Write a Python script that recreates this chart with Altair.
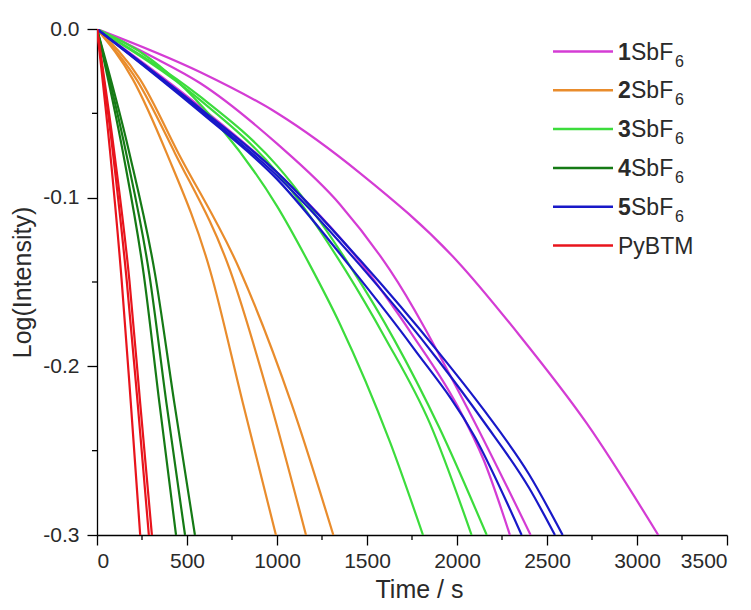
import altair as alt
import pandas as pd

# ---------------- data ----------------
series_names = ["1SbF6", "2SbF6", "3SbF6", "4SbF6", "5SbF6", "PyBTM"]
series_colors = ["#D43CD4", "#E98C2C", "#3CDC3C", "#157A15", "#1818C8", "#E8141C"]

# 1SbF6 (three runs)
m1_t = [0, 572, 1000, 1461, 2000, 2350, 2722, 3118]
m1_y = [0, -0.0255, -0.0498, -0.0854, -0.1375, -0.182, -0.234, -0.300]
m2_t = [0, 300, 572, 1000, 1350, 1628, 2044, 2409]
m2_y = [0, -0.016, -0.032, -0.068, -0.104, -0.143, -0.222, -0.300]
m3_t = [0, 572, 1000, 1461, 1750, 2000, 2150, 2294]
m3_y = [0, -0.046, -0.085, -0.138, -0.181, -0.223, -0.256, -0.300]

# 2SbF6
o1_t = [0, 200, 387, 628, 811, 994]
o1_y = [0, -0.030, -0.0736, -0.143, -0.222, -0.300]
o2_t = [0, 220, 433, 739, 965, 1161]
o2_y = [0, -0.030, -0.0736, -0.143, -0.222, -0.300]
o3_t = [0, 240, 452, 794, 1080, 1313]
o3_y = [0, -0.030, -0.0736, -0.143, -0.222, -0.300]

# 3SbF6
g1_t = [0, 300, 683, 1000, 1183, 1350, 1628, 1811]
g1_y = [0, -0.018, -0.058, -0.105, -0.140, -0.175, -0.245, -0.300]
g2_t = [0, 572, 1000, 1380, 1600, 1850, 2081]
g2_y = [0, -0.042, -0.085, -0.143, -0.183, -0.234, -0.300]
g3_t = [0, 572, 1000, 1420, 1650, 1900, 2165]
g3_y = [0, -0.040, -0.081, -0.143, -0.184, -0.236, -0.300]

# 4SbF6
d1_t = [0, 145, 259, 347, 439]
d1_y = [0, -0.0736, -0.145, -0.222, -0.300]
d2_t = [0, 162, 290, 386, 489]
d2_y = [0, -0.0736, -0.145, -0.222, -0.300]
d3_t = [0, 180, 322, 430, 544]
d3_y = [0, -0.0736, -0.145, -0.222, -0.300]

# 5SbF6
b1_t = [0, 572, 1000, 1400, 1750, 2100, 2359]
b1_y = [0, -0.049, -0.089, -0.140, -0.188, -0.242, -0.300]
b2_t = [0, 572, 1000, 1461, 1900, 2150, 2400, 2544]
b2_y = [0, -0.048, -0.087, -0.140, -0.197, -0.233, -0.272, -0.300]
b3_t = [0, 572, 1000, 1461, 1900, 2150, 2400, 2587]
b3_y = [0, -0.047, -0.085, -0.137, -0.192, -0.226, -0.264, -0.300]

# PyBTM
r1_t = [0, 72, 137, 188, 240]
r1_y = [0, -0.072, -0.149, -0.222, -0.300]
r2_t = [0, 88, 165, 226, 288]
r2_y = [0, -0.073, -0.149, -0.222, -0.300]
r3_t = [0, 97, 180, 240, 305]
r3_y = [0, -0.074, -0.149, -0.222, -0.300]

curves = [
    ("1SbF6", "m1", m1_t, m1_y), ("1SbF6", "m2", m2_t, m2_y), ("1SbF6", "m3", m3_t, m3_y),
    ("2SbF6", "o1", o1_t, o1_y), ("2SbF6", "o2", o2_t, o2_y), ("2SbF6", "o3", o3_t, o3_y),
    ("3SbF6", "g1", g1_t, g1_y), ("3SbF6", "g2", g2_t, g2_y), ("3SbF6", "g3", g3_t, g3_y),
    ("4SbF6", "d1", d1_t, d1_y), ("4SbF6", "d2", d2_t, d2_y), ("4SbF6", "d3", d3_t, d3_y),
    ("5SbF6", "b1", b1_t, b1_y), ("5SbF6", "b2", b2_t, b2_y), ("5SbF6", "b3", b3_t, b3_y),
    ("PyBTM", "r1", r1_t, r1_y), ("PyBTM", "r2", r2_t, r2_y), ("PyBTM", "r3", r3_t, r3_y),
]

x_major = [0, 500, 1000, 1500, 2000, 2500, 3000, 3500]
x_minor = [250, 750, 1250, 1750, 2250, 2750, 3250]
y_major = [0.0, -0.1, -0.2, -0.3]
y_minor = [-0.05, -0.15, -0.25]

legend_num = ["1", "2", "3", "4", "5", ""]
legend_rest = ["SbF", "SbF", "SbF", "SbF", "SbF", "PyBTM"]
legend_sub = ["6", "6", "6", "6", "6", ""]

# ---------------- tables ----------------
rows = []
for s, cid, ts, ys in curves:
    for i, (t, y) in enumerate(zip(ts, ys)):
        rows.append({"series": s, "curve": cid, "i": i, "t": t, "y": y})
df = pd.DataFrame(rows)

leg = pd.DataFrame({
    "row": list(range(len(series_names))),
    "series": series_names,
    "num": legend_num,
    "rest": legend_rest,
    "sub": legend_sub,
})

FONT = "Liberation Sans"
TXT = "#2a2a2a"

xscale = alt.Scale(domain=[0, 3500], nice=False, zero=False)
yscale = alt.Scale(domain=[-0.3, 0.0], nice=False, zero=False)
cscale = alt.Scale(domain=series_names, range=series_colors)

x_axis = alt.Axis(
    values=x_major, format="d", grid=False,
    tickSize=10, tickWidth=1.3, tickColor="black",
    domainColor="black", domainWidth=1.3,
    labelFont=FONT, labelFontSize=21, labelColor=TXT, labelPadding=5,
    title="Time / s", titleFont=FONT, titleFontSize=25, titleFontWeight="normal",
    titleColor=TXT, titleBaseline="alphabetic", titleY=62, titleX=322,
)
y_axis = alt.Axis(
    values=y_major, grid=False,
    labelExpr="datum.value == 0 ? '0.0' : '-' + format(-datum.value, '.1f')",
    tickSize=10, tickWidth=1.3, tickColor="black",
    domainColor="black", domainWidth=1.3,
    labelFont=FONT, labelFontSize=21, labelColor=TXT, labelPadding=8,
    title="Log(Intensity)", titleFont=FONT, titleFontSize=25, titleFontWeight="normal",
    titleColor=TXT, titleAngle=270, titleBaseline="alphabetic", titleX=-67,
)

lines = alt.Chart(df).mark_line(strokeWidth=2.2, interpolate="monotone", clip=True).encode(
    x=alt.X("t:Q", scale=xscale, axis=x_axis),
    y=alt.Y("y:Q", scale=yscale, axis=y_axis),
    color=alt.Color("series:N", scale=cscale, legend=None),
    detail="curve:N",
    order="i:Q",
)

xminor = alt.Chart(pd.DataFrame({"t": x_minor})).mark_rule(color="black", strokeWidth=1.3).encode(
    x=alt.X("t:Q", scale=xscale),
    y=alt.value(506), y2=alt.value(511),
)
yminor = alt.Chart(pd.DataFrame({"y": y_minor})).mark_rule(color="black", strokeWidth=1.3).encode(
    y=alt.Y("y:Q", scale=yscale),
    x=alt.value(0), x2=alt.value(-5),
)

main = alt.layer(lines, xminor, yminor)

ly = alt.Y("row:Q", scale=alt.Scale(domain=[0, 5], range=[22.5, 216.5]), axis=None)
leg_base = alt.Chart(leg)
leg_lines = leg_base.mark_rule(strokeWidth=2.5).encode(
    x=alt.value(456), x2=alt.value(516), y=ly,
    color=alt.Color("series:N", scale=cscale, legend=None),
)
leg_num = leg_base.mark_text(align="left", baseline="alphabetic", dy=8, font=FONT,
                             fontSize=23, fontWeight="bold", color=TXT).encode(
    x=alt.value(521), y=ly, text="num:N",
)
leg_rest_sbf = leg_base.transform_filter("datum.num != ''").mark_text(
    align="left", baseline="alphabetic", dy=8, font=FONT, fontSize=23, color=TXT).encode(
    x=alt.value(534), y=ly, text="rest:N",
)
leg_rest_py = leg_base.transform_filter("datum.num == ''").mark_text(
    align="left", baseline="alphabetic", dy=8, font=FONT, fontSize=23, color=TXT).encode(
    x=alt.value(521), y=ly, text="rest:N",
)
leg_sub = leg_base.mark_text(align="left", baseline="alphabetic", dy=15, font=FONT,
                             fontSize=16, color=TXT).encode(
    x=alt.value(578), y=ly, text="sub:N",
)
legend = alt.layer(leg_lines, leg_num, leg_rest_sbf, leg_rest_py, leg_sub)

chart = alt.layer(main, legend).resolve_scale(y="independent").properties(
    width=630, height=506,
    padding={"left": 89, "top": 21, "right": 16, "bottom": 67},
    autosize=alt.AutoSizeParams(type="none"),
    background="white",
).configure_view(stroke=None)

chart.save("out.html", embed_options={"renderer": "svg", "actions": False})
